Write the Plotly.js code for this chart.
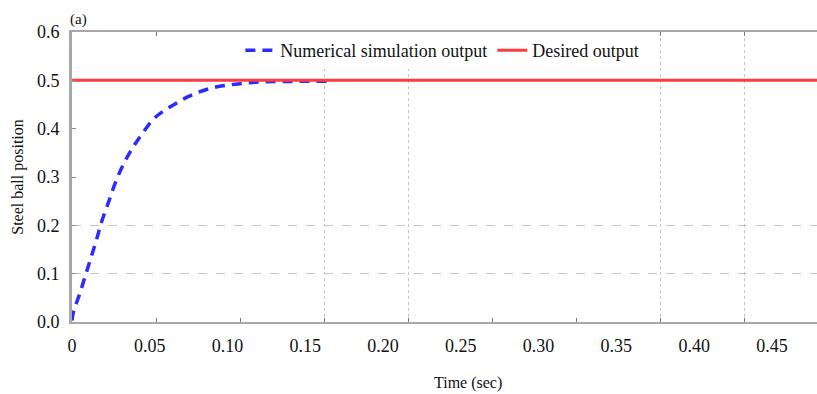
<!DOCTYPE html>
<html>
<head>
<meta charset="utf-8">
<script src="https://cdn.plot.ly/plotly-3.0.1.min.js"></script>
<style>html,body{margin:0;padding:0;background:#fff;}#chart{width:817px;height:394px;}</style>
</head>
<body>
<div id="chart"></div>
<script>
// Data
const timeSim = [0, 0.0008, 0.0051, 0.0088, 0.0122, 0.0159, 0.0191, 0.0234, 0.0276, 0.033, 0.0384, 0.0448, 0.0534, 0.0641, 0.0758, 0.0898, 0.1048, 0.1198, 0.1337, 0.1485, 0.164];
const posSim  = [0.003, 0.019, 0.06, 0.098, 0.133, 0.172, 0.208, 0.247, 0.286, 0.326, 0.357, 0.388, 0.423, 0.447, 0.468, 0.484, 0.492, 0.4965, 0.4975, 0.498, 0.498];
const timeDesired = [0, 0.479];
const posDesired  = [0.5, 0.5];
const xTickVals = [0, 0.05, 0.10, 0.15, 0.20, 0.25, 0.30, 0.35, 0.40, 0.45];
const xTickText = ["0", "0.05", "0.10", "0.15", "0.20", "0.25", "0.30", "0.35", "0.40", "0.45"];
const yTickVals = [0, 0.1, 0.2, 0.3, 0.4, 0.5, 0.6];
const yTickText = ["0.0", "0.1", "0.2", "0.3", "0.4", "0.5", "0.6"];
const tickMarkIdx = [1, 2, 3, 4, 5, 6, 7, 8];
const vGridIdx = [3, 4, 7, 8];
const hGridVals = [0.1, 0.2];

const font = "Liberation Serif";
const frame = "#a8a8a8";
const grid = "#c4c4c4";

const traces = [
  {x: [null], y: [null], xaxis: "x3", yaxis: "y2", showlegend: false, hoverinfo: "skip"},
  {x: [null], y: [null], xaxis: "x2", yaxis: "y", showlegend: false, hoverinfo: "skip"},
  {x: timeSim, y: posSim, type: "scatter", mode: "lines", name: "Numerical simulation output",
   line: {color: "#2b2bff", width: 3.5, dash: "10px,7px", shape: "spline"}},
  {x: timeDesired, y: posDesired, type: "scatter", mode: "lines", name: "Desired output",
   line: {color: "#ff3b3b", width: 3}}
];

const layout = {
  width: 817, height: 394,
  margin: {l: 72, r: 0, t: 32, b: 72},
  paper_bgcolor: "#fff", plot_bgcolor: "#fff",
  font: {family: font, size: 17, color: "#111"},
  showlegend: true,
  legend: {orientation: "h", x: 0.226, xanchor: "left", y: 1, yanchor: "top",
           bgcolor: "#fff", font: {family: font, size: 18, color: "#111"},
           itemwidth: 30, traceorder: "normal", tracegroupgap: 0, itemclick: false},
  xaxis: {range: [0, 0.479], tickvals: xTickVals, ticktext: xTickText, ticks: "",
          showgrid: false, zeroline: false, showline: false, ticklabelstandoff: 11,
          tickfont: {family: font, size: 18, color: "#111"}},
  xaxis2: {overlaying: "x", anchor: "y", side: "bottom", range: [0, 8.869],
           tickvals: tickMarkIdx, showticklabels: false, ticks: "inside", ticklen: 4,
           tickcolor: "#777", tickwidth: 1, showline: true, linecolor: frame, linewidth: 2,
           mirror: "ticks", showgrid: false, zeroline: false},
  xaxis3: {overlaying: "x", anchor: "y", range: [0, 8.869], tickvals: vGridIdx,
           showticklabels: false, ticks: "", showgrid: true, gridcolor: grid,
           griddash: "dot", gridwidth: 1, zeroline: false, showline: false},
  yaxis: {range: [0, 0.6], tickvals: yTickVals, ticktext: yTickText, ticks: "inside",
          ticklen: 4, tickcolor: "#888", showgrid: false, zeroline: false,
          showline: true, linecolor: frame, linewidth: 3, ticklabelstandoff: 6,
          tickfont: {family: font, size: 18, color: "#111"},
          title: {text: "Steel ball position", font: {family: font, size: 16, color: "#111"}, standoff: 10}},
  yaxis2: {overlaying: "y", anchor: "x", range: [0, 0.6], tickvals: hGridVals,
           showticklabels: false, ticks: "", showgrid: true, gridcolor: grid,
           griddash: "dash", gridwidth: 1, zeroline: false, showline: false},
  annotations: [
    {text: "Time (sec)", xref: "paper", yref: "paper", x: 0.531, y: -0.2, xanchor: "center",
     yanchor: "middle", yshift: -3, showarrow: false, font: {family: font, size: 16, color: "#111"}},
    {text: "(a)", xref: "paper", yref: "paper", x: -0.006, y: 1.0, xanchor: "left",
     yanchor: "bottom", yshift: 2, showarrow: false, font: {family: font, size: 15, color: "#111"}}
  ]
};

Plotly.newPlot("chart", traces, layout, {staticPlot: true, displayModeBar: false});
</script>
</body>
</html>
